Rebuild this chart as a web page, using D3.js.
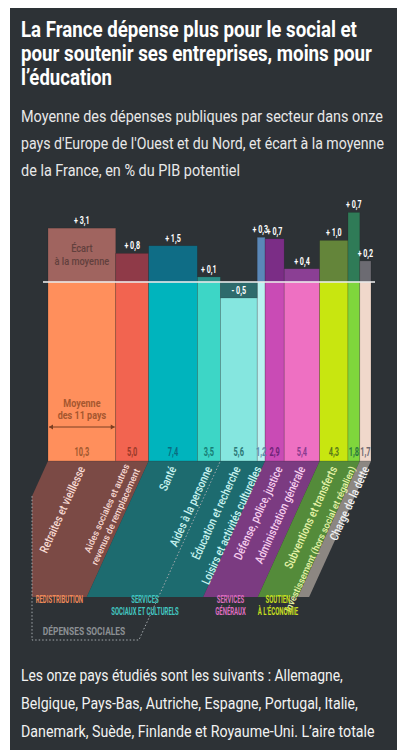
<!DOCTYPE html>
<html>
<head>
<meta charset="utf-8">
<script src="https://cdn.jsdelivr.net/npm/d3@7"></script>
<style>
    body { margin: 0; background: #fff; }
    svg { display: block; font-family: Roboto, "Noto Sans", sans-serif; }
</style>
</head>
<body>
<div id="chart"></div>
<script>
// data (% du PIB potentiel)
const categories = [
    "Retraites et vieillesse",
    "Aides sociales et autres\nrevenus  de remplacement",
    "Santé",
    "Aides à la personne",
    "Éducation et recherche",
    "Loisirs et activités culturelles",
    "Défense, police, justice",
    "Administration générale",
    "Subventions et transferts",
    "Investissement (hors social et régalien)",
    "Charge de la dette"
];
const moyennes = [10.3, 5.0, 7.4, 3.5, 5.6, 1.2, 2.9, 5.4, 4.3, 1.8, 1.7];
const ecarts = [3.1, 0.8, 1.5, 0.1, -0.5, 0.3, 0.7, 0.4, 1.0, 0.7, 0.2];
const groupes = ["REDISTRIBUTION", "SERVICES\nSOCIAUX ET CULTURELS", "SERVICES\nGÉNÉRAUX", "SOUTIEN\nÀ L’ÉCONOMIE", ""];
const groupeDe = [0, 0, 1, 1, 1, 1, 2, 2, 3, 3, 4];
const socialesJusqua = 4; // dépenses sociales = 4 premiers postes

const titleLines = ["La France dépense plus pour le social et", "pour soutenir ses entreprises, moins pour", "l’éducation"];
const subtitleLines = ["Moyenne des dépenses publiques par secteur dans onze", "pays d'Europe de l'Ouest et du Nord, et écart à la moyenne", "de la France, en % du PIB potentiel"];
const noteLines = ["Les onze pays étudiés sont les suivants : Allemagne,", "Belgique, Pays-Bas, Autriche, Espagne, Portugal, Italie,", "Danemark, Suède, Finlande et Royaume-Uni. L’aire totale"];

// palette
const lowerColors = ["#ff8f5c", "#f26450", "#00b4bd", "#3dd6c6", "#85e6df", "#bbf2f1", "#c94bb5", "#ee70c2", "#c8e610", "#7fd63c", "#f0d8cb"];
const upperColors = ["#a0645f", "#8f3a48", "#0f6d86", "#2a8f88", "#2e6b6c", "#5a88b8", "#7b2d86", "#8b3f94", "#64853a", "#2f7b57", "#6c6b72"];
const valueColors = ["#a0582f", "#9a3a2a", "#0b6c80", "#177d75", "#2c7876", "#5c8aa8", "#6e2478", "#8a3b8f", "#5a7a1a", "#2b7a3f", "#6f6a70"];
const bandColors = ["#7b4a45", "#1d6b6f", "#7b3b81", "#548b3a", "#8c8782"];
const bandText = ["#f7d9d2", "#c8f3ef", "#f6cdee", "#e6f3a8", "#f2f2f2"];
const groupColors = ["#f08a5a", "#42c6c0", "#dc6cbf", "#c6df1e", "#ccc"];

const W = 406, H = 750;
const baseY = 282, botY = 461, bandBot = 597;
const slope = 0.455; // dx/dy of the slanted bands
const shift = slope * (bandBot - botY);
const angle = -Math.atan(1 / slope) * 180 / Math.PI;

const svg = d3.select("#chart").append("svg")
    .attr("width", W)
    .attr("height", H);

svg.append("rect").attr("x", 10).attr("y", 8).attr("width", 387).attr("height", H)
    .attr("fill", "#2d3236");

const fmt = v => d3.format(".1f")(Math.abs(v)).replace(".", ",");

// condensed text: scale glyphs horizontally
function cond(parent, x, y, str, k, opts) {
    const g = parent.append("g")
        .attr("transform", `translate(${x},${y})${opts.rotate ? ` rotate(${opts.rotate})` : ""} scale(${k},1)`);
    const t = g.append("text")
        .attr("text-anchor", opts.anchor || "middle")
        .attr("font-size", opts.size)
        .attr("font-weight", opts.weight || 400)
        .attr("fill", opts.fill)
        .text(str);
    if (opts.dy) t.attr("dy", opts.dy);
    return t;
}

// header / footer lines squeezed to the width they have in the original
function lines(list, y0, step, size, weight, fill, widths) {
    list.forEach((l, i) => {
        const g = svg.append("g");
        const t = g.append("text")
            .attr("font-size", size)
            .attr("font-weight", weight)
            .attr("fill", fill)
            .text(l);
        const k = widths[i] / t.node().getComputedTextLength();
        g.attr("transform", `translate(21,${y0 + i * step}) scale(${k},1)`);
    });
}

lines(titleLines, 37, 24, 22, 700, "#ffffff", [336, 351, 91]);
lines(subtitleLines, 122, 27, 16.5, 400, "#e8e8e8", [362, 363, 219]);
lines(noteLines, 681, 28, 16.5, 400, "#f2f2f2", [322, 337, 354]);

// scales
const total = d3.sum(moyennes);
const x = d3.scaleLinear().domain([0, total]).range([48, 371]);
const yEcart = d3.scaleLinear().domain([0, 1]).range([0, botY - baseY]); // écart / moyenne

const starts = [0, ...d3.cumsum(moyennes)];
const data = moyennes.map((m, i) => ({
    cat: categories[i], m: m, e: ecarts[i], x0: starts[i], x1: starts[i] + m, g: groupeDe[i], i: i
}));

// slanted bands below the bars
const clip = svg.append("clipPath").attr("id", "bandclip");
clip.append("rect").attr("x", 32).attr("y", botY).attr("width", 400).attr("height", 200);

const bandG = svg.append("g").attr("clip-path", "url(#bandclip)");
const groups = d3.groups(data, d => d.g).map(([g, ds]) => ({
    g: g,
    a: x(d3.min(ds, d => d.x0)),
    b: x(d3.max(ds, d => d.x1))
}));

bandG.selectAll("polygon")
    .data(groups)
    .enter()
    .append("polygon")
    .attr("points", d => [[d.a, botY], [d.b, botY], [d.b - shift, bandBot], [d.a - shift, bandBot]].join(" "))
    .attr("fill", d => bandColors[d.g]);

// dotted bracket "dépenses sociales"
const socEnd = x(starts[socialesJusqua]);
const leftTop = botY + (x(0) - 32) / slope;
svg.append("path")
    .attr("d", `M32,${leftTop} V640 H${socEnd - slope * (640 - botY)} L${socEnd},${botY}`)
    .attr("fill", "none")
    .attr("stroke", "#a3a9ad")
    .attr("stroke-width", 1)
    .attr("stroke-dasharray", "1.5,2");

// rotated category labels, anchors pushed apart where bars are narrow
const isLong = d => d.cat.length > 35;
const anchors = data.map(d => (x(d.x0) + x(d.x1)) / 2);
for (let it = 0; it < 60; it++) {
    for (let i = 1; i < anchors.length; i++) {
        const need = (isLong(data[i]) || isLong(data[i - 1])) ? 13 : 21;
        const gap = anchors[i] - anchors[i - 1];
        if (gap < need) {
            anchors[i - 1] -= (need - gap) / 2;
            anchors[i] += (need - gap) / 2;
        }
    }
}

data.forEach((d, i) => {
    const parts = d.cat.split("\n");
    const long = isLong(d);
    parts.forEach((p, j) => {
        const off = (j - (parts.length - 1) / 2) * 11.5;
        cond(svg, anchors[i], 467, p, long ? 0.95 : 0.82, {
            rotate: angle, anchor: "end", size: long ? 9.5 : 12, weight: 500,
            fill: bandText[d.g], dy: off + (long ? 3 : 4)
        });
    });
});

// group labels
groups.forEach(gr => {
    if (!groupes[gr.g]) return;
    const left = Math.max(32, gr.a - shift), right = gr.b - shift;
    const parts = groupes[gr.g].split("\n");
    parts.forEach((p, j) => {
        cond(svg, (left + right) / 2, 603 + j * 11.8, p, 0.6, {
            size: 10, weight: 700, fill: groupColors[gr.g]
        });
    });
});
cond(svg, 84, 635, "DÉPENSES SOCIALES", 0.8, { size: 10.5, weight: 700, fill: "#8b8f93" });

// lower bars: average of the 11 countries
svg.selectAll(".lower")
    .data(data)
    .enter()
    .append("rect")
    .attr("class", "lower")
    .attr("x", d => x(d.x0))
    .attr("y", baseY)
    .attr("width", d => x(d.x1) - x(d.x0))
    .attr("height", botY - baseY)
    .attr("fill", d => lowerColors[d.i])
    .attr("stroke", "rgba(30,30,30,0.3)")
    .attr("stroke-width", 0.6);

// upper bars: écart de la France
svg.selectAll(".upper")
    .data(data)
    .enter()
    .append("rect")
    .attr("class", "upper")
    .attr("x", d => x(d.x0))
    .attr("y", d => d.e >= 0 ? baseY - yEcart(d.e / d.m) : baseY)
    .attr("width", d => x(d.x1) - x(d.x0))
    .attr("height", d => yEcart(Math.abs(d.e) / d.m))
    .attr("fill", d => upperColors[d.i])
    .attr("stroke", "rgba(30,30,30,0.3)")
    .attr("stroke-width", 0.6);

// baseline
svg.append("line")
    .attr("x1", 43).attr("x2", 375)
    .attr("y1", baseY).attr("y2", baseY)
    .attr("stroke", "#f4f4f4")
    .attr("stroke-width", 1.6);

// écart labels and average values
data.forEach(d => {
    const bx0 = x(d.x0), bx1 = x(d.x1);
    const cx = (bx0 + bx1) / 2;
    const h = yEcart(Math.abs(d.e) / d.m);
    const narrow = bx1 - bx0 < 10;
    if (d.e >= 0) {
        cond(svg, narrow ? bx1 + 3 : cx, baseY - h - 4, "+ " + fmt(d.e), 0.62,
            { size: 11.5, weight: 700, fill: "#ffffff", anchor: narrow ? "end" : "middle" });
    } else {
        cond(svg, cx, baseY + h / 2 + 4, "- " + fmt(d.e), 0.62, { size: 11.5, weight: 700, fill: "#ffffff" });
    }
    cond(svg, cx, 456, fmt(d.m), 0.57, { size: 13, weight: 700, fill: valueColors[d.i] });
});

// annotations in first bar
const c0 = (x(data[0].x0) + x(data[0].x1)) / 2;
cond(svg, c0, 252, "Écart", 0.88, { size: 10.5, weight: 500, fill: "#62403d" });
cond(svg, c0, 265, "à la moyenne", 0.88, { size: 10.5, weight: 500, fill: "#62403d" });
cond(svg, c0, 407, "Moyenne", 0.86, { size: 10.5, weight: 700, fill: "#a5572f" });
cond(svg, c0, 419, "des 11 pays", 0.86, { size: 10.5, weight: 700, fill: "#a5572f" });

const ax0 = x(data[0].x0) + 1, ax1 = x(data[0].x1) - 1, ay = 427;
svg.append("line")
    .attr("x1", ax0).attr("x2", ax1).attr("y1", ay).attr("y2", ay)
    .attr("stroke", "#7a3e22").attr("stroke-width", 1);
svg.append("path")
    .attr("d", `M${ax0},${ay} l4,-2.5 v5 z M${ax1},${ay} l-4,-2.5 v5 z`)
    .attr("fill", "#7a3e22");
</script>
</body>
</html>
